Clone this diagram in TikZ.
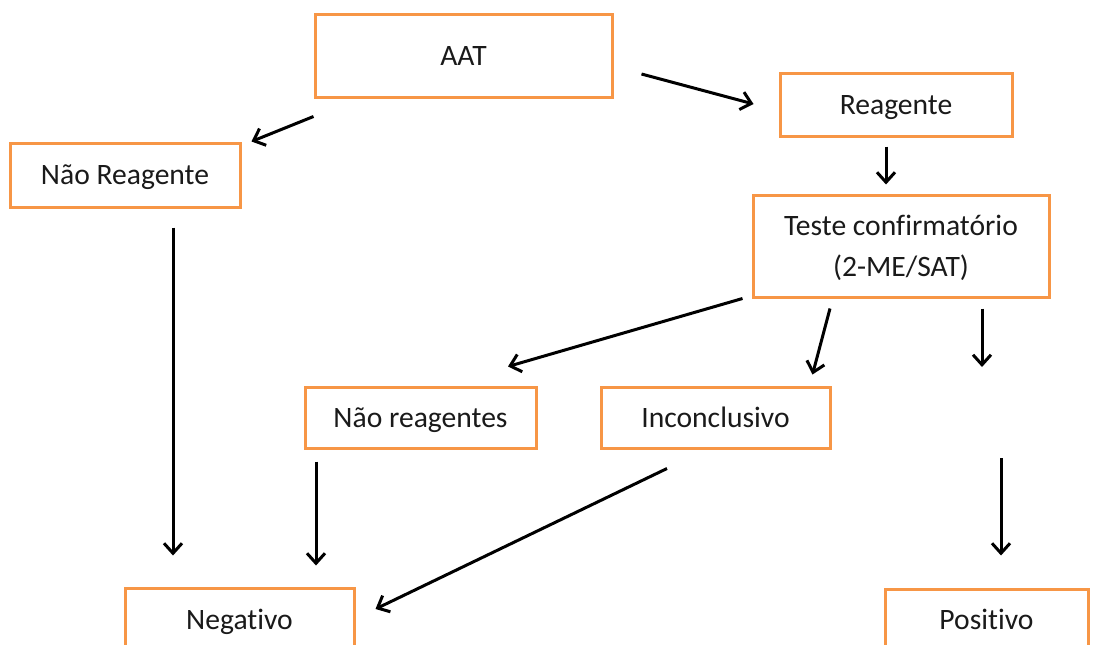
\documentclass[tikz,border=0pt]{standalone}
\usepackage{fontspec}
\setmainfont[Ligatures=NoCommon]{Carlito}
\usetikzlibrary{arrows.meta,calc}
\definecolor{boxorange}{HTML}{F79646}
\definecolor{txt}{HTML}{1A1A1A}
\tikzset{
  box/.style={draw=boxorange, line width=3pt, rectangle, inner sep=0pt,
    text=txt, font=\fontsize{29.6}{41}\selectfont, text height=19pt, text depth=0pt, align=center},
  arr/.style={draw=black, line width=3pt, -{Straight Barb[length=10pt,width=18pt,line width=3pt]}}
}
\begin{document}
\begin{tikzpicture}[x=1pt,y=-1pt]
\useasboundingbox (0,0) rectangle (1104,645);
\clip (0,0) rectangle (1104,645);
\fill[white] (0,0) rectangle (1104,645);

\node[box, minimum width=297pt, minimum height=83pt] (aat) at (463.5,55.5) {AAT};
\node[box, minimum width=230pt, minimum height=64pt] (nrg) at (125,175) {Não Reagente};
\node[box, minimum width=232pt, minimum height=63pt] (rg) at (896,104.5) {Reagente};
\node[box, minimum width=296pt, minimum height=102pt, text height=60pt, text depth=0pt] (teste) at (901,246) {Teste confirmatório\\(2-ME/SAT)};
\node[box, minimum width=231pt, minimum height=61pt] (nrs) at (420.5,417.5) {Não reagentes};
\node[box, minimum width=229pt, minimum height=61pt] (inc) at (715.5,417.5) {Inconclusivo};
\node[box, minimum width=229pt, minimum height=64pt] (neg) at (239.5,620) {Negativo};
\node[box, minimum width=203pt, minimum height=62pt] (pos) at (986.5,620) {Positivo};

\coordinate (c1) at (982,367);
\coordinate (c2) at (1001,458);

\draw[arr] ($(aat.east)+(28,18.5)$) -- ($(rg.west)+(-25,-0.5)$);
\draw[arr] ($(aat.south west)+(0,18)$) -- ($(nrg.north east)+(10,0)$);
\draw[arr] ($(rg.south)+(-10,9)$) -- ($(teste.north)+(-15,-9)$);
\draw[arr] ($(nrg.south)+(48,19)$) -- ($(neg.north)+(-66.5,-31)$);
\draw[arr] ($(teste.south west)+(-9,0)$) -- ($(nrs.north)+(87.5,-19)$);
\draw[arr] ($(teste.south)+(-71,10)$) -- ($(inc.north east)+(-19,-11)$);
\draw[arr] ($(teste.south)+(81,10)$) -- (c1);
\draw[arr] (c2) -- ($(pos.north)+(14.5,-32)$);
\draw[arr] ($(nrs.south)+(-104.5,12)$) -- ($(neg.north)+(76.5,-21)$);
\draw[arr] ($(inc.south)+(-48.5,19)$) -- ($(neg.east)+(20,-11)$);
\end{tikzpicture}
\end{document}
